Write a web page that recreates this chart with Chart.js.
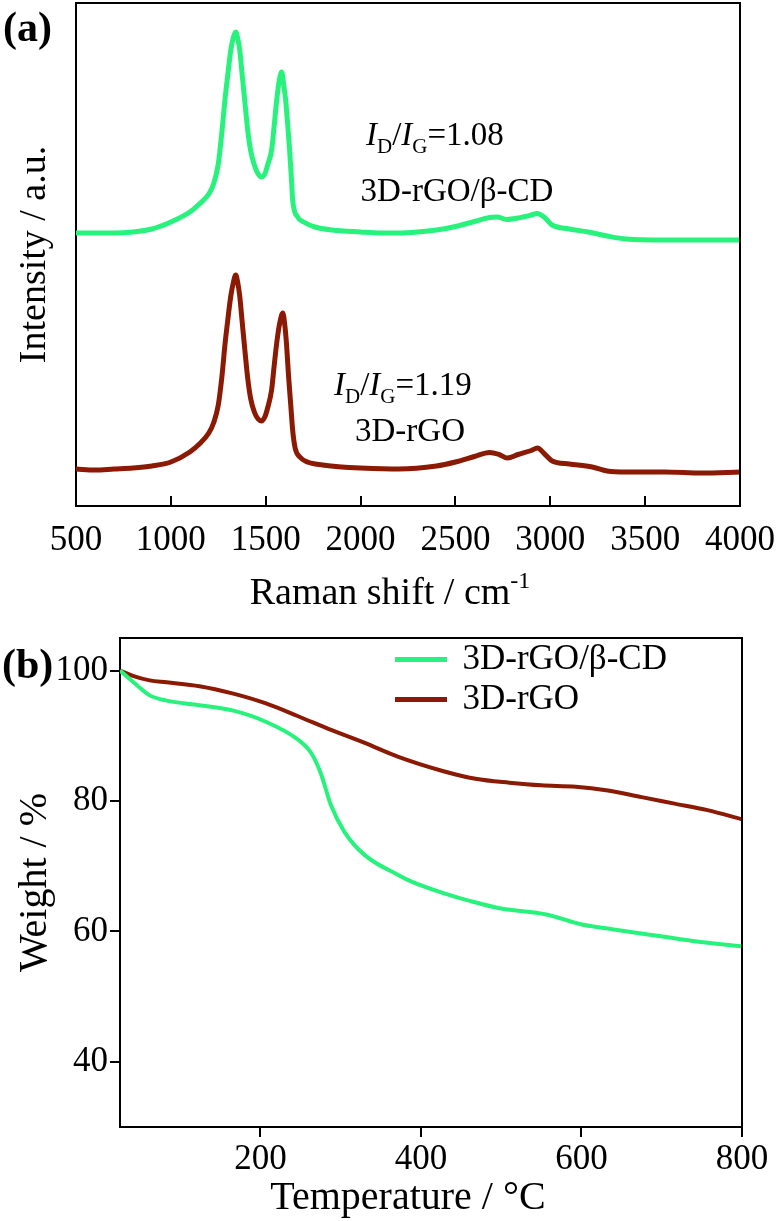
<!DOCTYPE html>
<html>
<head>
<meta charset="utf-8">
<script src="https://cdn.jsdelivr.net/npm/chart.js@4.4.1/dist/chart.umd.min.js"></script>
<style>
  body { margin: 0; background: #fff; }
  #wrap { position: relative; width: 779px; height: 1221px; }
  canvas { position: absolute; left: 0; }
  #raman { top: 0; }
  #tga { top: 615px; }
</style>
</head>
<body>
<div id="wrap">
  <canvas id="raman" width="779" height="615"></canvas>
  <canvas id="tga" width="779" height="606"></canvas>
</div>
<script>
// (a) Raman spectra
var ramanShiftCD = [500, 600, 700, 800, 900, 1000, 1100, 1150, 1200, 1225, 1250, 1270, 1285, 1300, 1316, 1330, 1342, 1352, 1363, 1376, 1389, 1405, 1420, 1440, 1460, 1478, 1495, 1510, 1531, 1545, 1558, 1572, 1584, 1595, 1605, 1616, 1626, 1636, 1642, 1668, 1700, 1760, 1850, 2000, 2100, 2200, 2300, 2400, 2500, 2600, 2680, 2720, 2770, 2830, 2900, 2930, 2970, 3010, 3100, 3200, 3300, 3400, 3600, 3800, 4000];
var intensityCD = [54.6, 54.6, 54.6, 54.8, 55.4, 56.8, 58.8, 60.4, 62.4, 64.4, 68.4, 75.2, 81.2, 86.2, 91.2, 93.8, 94.8, 93.6, 91.2, 86.2, 81.2, 75.2, 71.2, 68.2, 66.4, 65.8, 66.4, 68.2, 71.2, 76.2, 81.2, 85.2, 86.8, 84.2, 81.2, 76.2, 71.2, 65.2, 61.2, 57.8, 56.8, 55.8, 55.2, 54.8, 54.6, 54.6, 54.8, 55.2, 55.9, 56.9, 57.7, 57.8, 57.3, 57.6, 58.2, 58.5, 57.7, 56.2, 55.4, 54.8, 54.0, 53.4, 53.2, 53.2, 53.2];
var ramanShiftRGO = [500, 600, 700, 800, 900, 1000, 1100, 1150, 1200, 1225, 1250, 1270, 1285, 1300, 1316, 1330, 1342, 1352, 1363, 1376, 1389, 1405, 1420, 1440, 1460, 1478, 1495, 1510, 1531, 1545, 1560, 1575, 1590, 1600, 1610, 1620, 1632, 1642, 1655, 1680, 1720, 1800, 1900, 2000, 2200, 2400, 2500, 2600, 2680, 2730, 2774, 2830, 2900, 2932, 2970, 3010, 3100, 3221, 3300, 3400, 3600, 3800, 4000];
var intensityRGO = [7.4, 7.2, 7.4, 7.6, 8.0, 8.8, 10.8, 12.4, 14.6, 16.6, 20.2, 26.2, 32.2, 37.2, 42.0, 44.8, 46.2, 44.8, 42.0, 36.8, 31.6, 25.6, 21.6, 18.8, 17.4, 17.0, 17.8, 19.6, 23.2, 28.2, 33.2, 36.8, 38.6, 36.4, 32.2, 26.2, 20.2, 15.2, 11.6, 9.8, 8.8, 8.2, 7.8, 7.6, 7.4, 8.0, 8.8, 9.9, 10.7, 10.3, 9.6, 10.3, 11.1, 11.6, 10.4, 9.0, 8.4, 7.8, 7.0, 6.8, 6.8, 6.6, 6.8];
var ramanTicks = [500, 1000, 1500, 2000, 2500, 3000, 3500, 4000];

// (b) TGA curves
var tempCD = [25, 41, 62, 83, 124, 165, 206, 247, 263, 275, 288, 305, 330, 371, 389, 430, 463, 500, 556, 599, 640, 679, 741, 800];
var weightCD = [100, 98.3, 96.2, 95.4, 94.7, 93.9, 92.2, 89.4, 87.4, 84.3, 79.3, 75.2, 71.7, 68.7, 67.6, 65.8, 64.6, 63.5, 62.6, 61.1, 60.3, 59.6, 58.5, 57.7];
var tempRGO = [25, 41, 62, 83, 124, 165, 206, 247, 288, 330, 371, 427, 468, 510, 550, 593, 633, 675, 716, 757, 800];
var weightRGO = [100, 99.2, 98.5, 98.2, 97.6, 96.5, 95.0, 93.0, 90.9, 88.9, 86.8, 84.6, 83.4, 82.8, 82.4, 82.2, 81.6, 80.6, 79.6, 78.6, 77.2];
var tempTicks = [200, 400, 600, 800];
var weightTicks = [40, 60, 80, 100];

var green = '#27f27c';
var brown = '#8a1a03';
var serif = "'Liberation Serif', 'Times New Roman', serif";

function pts(xs, ys) {
  return xs.map(function (x, i) { return {x: x, y: ys[i]}; });
}

function plain(v) { return String(v); }

function boxTopRight(ctx, a) {
  ctx.strokeStyle = '#000';
  ctx.lineWidth = 2;
  ctx.beginPath();
  ctx.moveTo(a.left, a.top);
  ctx.lineTo(a.right, a.top);
  ctx.lineTo(a.right, a.bottom);
  ctx.stroke();
}

// I_D/I_G=value with italic I and subscripts
function ratioText(ctx, x, y, value) {
  ctx.textAlign = 'left';
  ctx.textBaseline = 'alphabetic';
  var parts = [
    ['italic 33px ' + serif, 'I', 0],
    ['21px ' + serif, 'D', 8],
    ['33px ' + serif, '/', 0],
    ['italic 33px ' + serif, 'I', 0],
    ['21px ' + serif, 'G', 8],
    ['33px ' + serif, '=' + value, 0]
  ];
  parts.forEach(function (p) {
    ctx.font = p[0];
    ctx.fillText(p[1], x, y + p[2]);
    x += ctx.measureText(p[1]).width;
  });
}

var ramanDecor = {
  id: 'ramanDecor',
  afterDraw: function (chart) {
    var ctx = chart.ctx;
    ctx.save();
    boxTopRight(ctx, chart.chartArea);
    ctx.fillStyle = '#000';
    ctx.font = 'bold 42px ' + serif;
    ctx.textAlign = 'left';
    ctx.textBaseline = 'middle';
    ctx.fillText('(a)', 3, 30);

    ratioText(ctx, 366, 145, '1.08');
    ratioText(ctx, 334, 395, '1.19');
    ctx.font = '33px ' + serif;
    ctx.textAlign = 'center';
    ctx.textBaseline = 'alphabetic';
    ctx.fillText('3D-rGO/\u03b2-CD', 457, 201);
    ctx.fillText('3D-rGO', 410, 441);

    // x axis title with superscript
    var main = 'Raman shift / cm';
    ctx.font = '38px ' + serif;
    var w1 = ctx.measureText(main).width;
    ctx.font = '24px ' + serif;
    var w2 = ctx.measureText('-1').width;
    var x0 = 390 - (w1 + w2) / 2;
    ctx.textAlign = 'left';
    ctx.font = '38px ' + serif;
    ctx.fillText(main, x0, 604);
    ctx.font = '24px ' + serif;
    ctx.fillText('-1', x0 + w1, 588);
    ctx.restore();
  }
};

var tgaDecor = {
  id: 'tgaDecor',
  afterLayout: function (chart) {
    chart.legend.left = 392;
    chart.legend.top = 22;
  },
  afterDraw: function (chart) {
    var ctx = chart.ctx;
    ctx.save();
    boxTopRight(ctx, chart.chartArea);
    ctx.fillStyle = '#000';
    ctx.font = 'bold 42px ' + serif;
    ctx.textAlign = 'left';
    ctx.textBaseline = 'middle';
    ctx.fillText('(b)', 2, 52);
    ctx.font = '40px ' + serif;
    ctx.textAlign = 'center';
    ctx.fillText('Temperature / \u00b0C', 408, 583);
    ctx.restore();
  }
};

new Chart(document.getElementById('raman').getContext('2d'), {
  type: 'line',
  data: {
    datasets: [{
      label: '3D-rGO/\u03b2-CD',
      data: pts(ramanShiftCD, intensityCD),
      borderColor: green,
      backgroundColor: green,
      borderWidth: 5,
      pointRadius: 0,
      cubicInterpolationMode: 'monotone'
    }, {
      label: '3D-rGO',
      data: pts(ramanShiftRGO, intensityRGO),
      borderColor: brown,
      backgroundColor: brown,
      borderWidth: 5,
      pointRadius: 0,
      cubicInterpolationMode: 'monotone'
    }]
  },
  options: {
    responsive: false,
    animation: false,
    devicePixelRatio: 1,
    layout: {padding: {top: 3, right: 39, left: 0, bottom: 0}},
    plugins: {legend: {display: false}, tooltip: {enabled: false}},
    scales: {
      x: {
        type: 'linear',
        min: 500,
        max: 4000,
        afterBuildTicks: function (s) { s.ticks = ramanTicks.map(function (v) { return {value: v}; }); },
        afterFit: function (s) { s.height = 109; s.paddingLeft = 0; s.paddingRight = 0; },
        grid: {drawOnChartArea: false, drawTicks: true, tickLength: -10, color: '#000', lineWidth: 2},
        border: {display: true, color: '#000', width: 2},
        ticks: {color: '#000', font: {family: serif, size: 35}, padding: 24, maxRotation: 0, autoSkip: false, callback: plain}
      },
      y: {
        min: 0,
        max: 100.6,
        afterFit: function (s) { s.width = 76; },
        grid: {drawOnChartArea: false, drawTicks: false},
        border: {display: true, color: '#000', width: 2},
        ticks: {display: false},
        title: {display: true, text: 'Intensity / a.u.', color: '#000', font: {family: serif, size: 38}, padding: {top: 12, bottom: 0}}
      }
    }
  },
  plugins: [ramanDecor]
});

new Chart(document.getElementById('tga').getContext('2d'), {
  type: 'line',
  data: {
    datasets: [{
      label: '3D-rGO/\u03b2-CD',
      data: pts(tempCD, weightCD),
      borderColor: green,
      backgroundColor: green,
      borderWidth: 4,
      pointRadius: 0,
      cubicInterpolationMode: 'monotone'
    }, {
      label: '3D-rGO',
      data: pts(tempRGO, weightRGO),
      borderColor: brown,
      backgroundColor: brown,
      borderWidth: 4,
      pointRadius: 0,
      cubicInterpolationMode: 'monotone'
    }]
  },
  options: {
    responsive: false,
    animation: false,
    devicePixelRatio: 1,
    layout: {padding: {top: 18, right: 37, left: 0, bottom: 0}},
    plugins: {
      tooltip: {enabled: false},
      legend: {
        position: 'chartArea',
        align: 'start',
        labels: {color: '#000', font: {family: serif, size: 35}, boxWidth: 48, boxHeight: 1, padding: 5}
      }
    },
    scales: {
      x: {
        type: 'linear',
        min: 25,
        max: 800,
        afterBuildTicks: function (s) { s.ticks = tempTicks.map(function (v) { return {value: v}; }); },
        afterFit: function (s) { s.height = 94; s.paddingLeft = 0; s.paddingRight = 0; },
        grid: {drawOnChartArea: false, drawTicks: true, tickLength: 10, color: '#000', lineWidth: 2},
        border: {display: true, color: '#000', width: 2},
        ticks: {color: '#000', font: {family: serif, size: 35}, padding: 2, maxRotation: 0, autoSkip: false, callback: plain}
      },
      y: {
        min: 30,
        max: 105,
        afterBuildTicks: function (s) { s.ticks = weightTicks.map(function (v) { return {value: v}; }); },
        afterFit: function (s) { s.width = 120; },
        grid: {drawOnChartArea: false, drawTicks: true, tickLength: 10, color: '#000', lineWidth: 2},
        border: {display: true, color: '#000', width: 2},
        ticks: {color: '#000', font: {family: serif, size: 35}, padding: 2, callback: plain},
        title: {display: true, text: 'Weight / %', color: '#000', font: {family: serif, size: 40}, padding: {top: 11, bottom: 0}}
      }
    }
  },
  plugins: [tgaDecor]
});
</script>
</body>
</html>
